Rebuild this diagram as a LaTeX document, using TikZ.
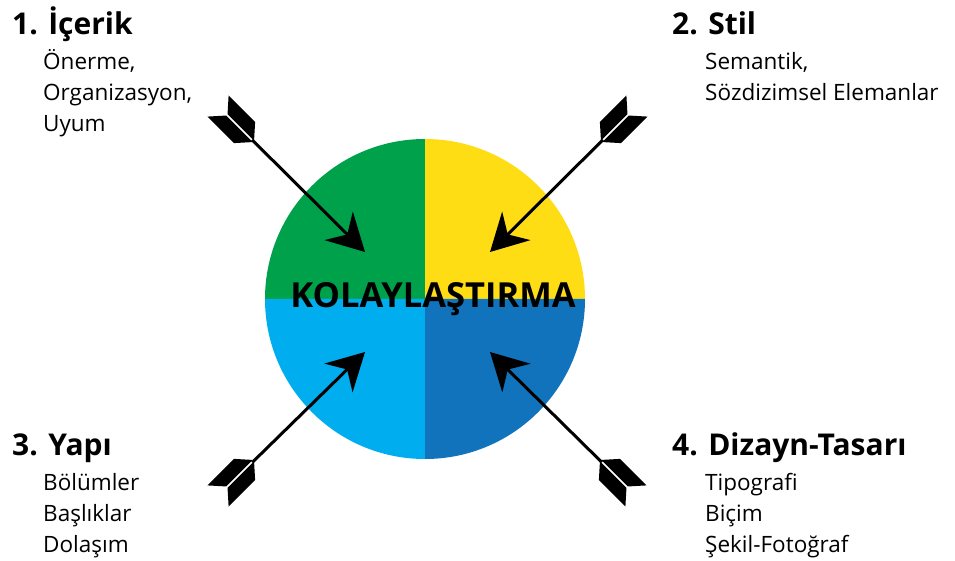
\documentclass[tikz,border=0pt]{standalone}
\usepackage{fontspec}
\setmainfont{Open Sans}
\usetikzlibrary{
  arrows.meta,
  calc,
}
\definecolor{quadgreen}{RGB}{0,161,75}
\definecolor{quadyellow}{RGB}{255,221,21}
\definecolor{quadcyan}{RGB}{0,174,239}
\definecolor{quadblue}{RGB}{16,115,187}
\newcommand\itemlines[1]{\begin{tabular}[t]{@{}l@{}}#1\end{tabular}}
\tikzset{
  >={Stealth[length=37pt,width=40pt,inset=12pt]},
  fletch/.pic={
    \fill (0,15) -- (12.5,1) -- (50,1) -- (37.5,15) -- cycle;
    \fill (0,-15) -- (12.5,-1) -- (50,-1) -- (37.5,-15) -- cycle;
  },
}

\begin{document}
\begin{tikzpicture}[x=1pt, y=1pt,
    title/.style={anchor=base west, inner sep=0pt, font=\fontsize{30}{32}\selectfont\bfseries},
    items/.style={anchor=base west, inner sep=0pt, font=\fontsize{22.5}{31}\selectfont},
    shaft/.style={->, line width=3pt},
  ]
  \useasboundingbox (0,0) rectangle (955,560);

  % disc in four quarters
  \coordinate (ctr) at (425,261);
  \fill[quadgreen]  (ctr) -- ++(0,160) arc (90:180:160pt) -- cycle;
  \fill[quadyellow] (ctr) -- ++(160,0) arc (0:90:160pt) -- cycle;
  \fill[quadcyan]   (ctr) -- ++(-160,0) arc (180:270:160pt) -- cycle;
  \fill[quadblue]   (ctr) -- ++(0,-160) arc (270:360:160pt) -- cycle;
  \node (hub) at (433,252) [anchor=base, inner sep=0pt, font=\fontsize{34.5}{38}\selectfont\bfseries] {KOLAYLAŞTIRMA};

  % arrows
  \coordinate (t1) at (218,454); \coordinate (h1) at (365,308);
  \coordinate (t2) at (637,454); \coordinate (h2) at (490,308);
  \coordinate (t3) at (218,64);  \coordinate (h3) at (365,208);
  \coordinate (t4) at (636,64);  \coordinate (h4) at (490,208);
  \pic[rotate=-45]  at (t1) {fletch};
  \pic[rotate=-135] at (t2) {fletch};
  \pic[rotate=45]   at (t3) {fletch};
  \pic[rotate=135]  at (t4) {fletch};
  \draw[shaft] ($(t1)!48pt!(h1)$) -- (h1);
  \draw[shaft] ($(t2)!48pt!(h2)$) -- (h2);
  \draw[shaft] ($(t3)!48pt!(h3)$) -- (h3);
  \draw[shaft] ($(t4)!48pt!(h4)$) -- (h4);

  % labels
  \node[title] (content) at (12,525) {1. İçerik};
  \node[items] (contentitems) at (43,490) {\itemlines{Önerme,\\Organizasyon,\\Uyum}};
  \node[title] (style) at (672,525) {2. Stil};
  \node[items] (styleitems) at (705,490) {\itemlines{Semantik,\\Sözdizimsel Elemanlar}};
  \node[title] (structure) at (12,105) {3. Yapı};
  \node[items] (structureitems) at (43,70) {\itemlines{Bölümler\\Başlıklar\\Dolaşım}};
  \node[title] (design) at (672,105) {4. Dizayn-Tasarı};
  \node[items] (designitems) at (705,70) {\itemlines{Tipografi\\Biçim\\Şekil-Fotoğraf}};
\end{tikzpicture}
\end{document}
